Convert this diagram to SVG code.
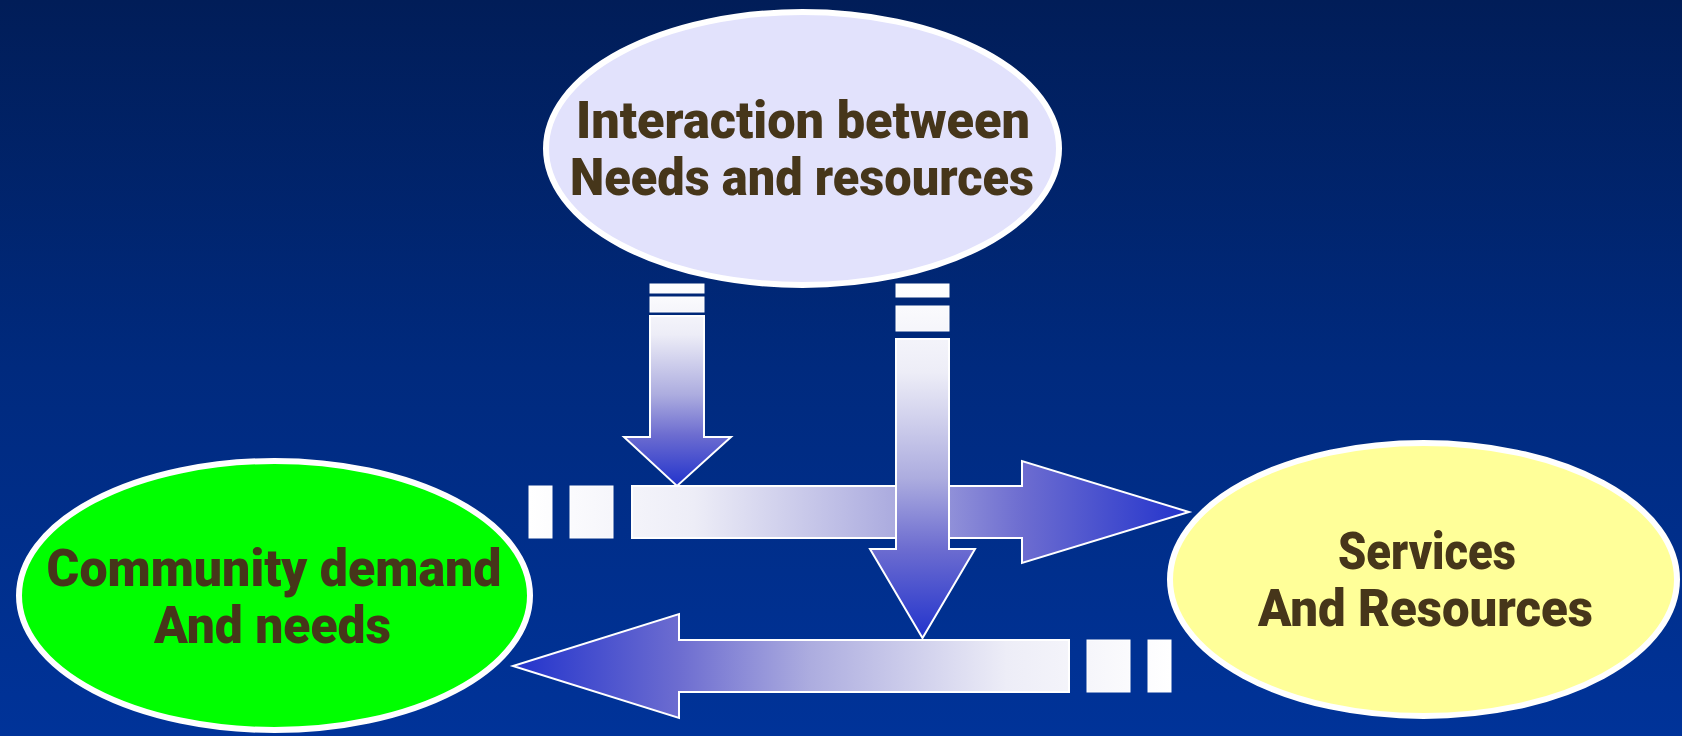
<svg xmlns="http://www.w3.org/2000/svg" width="1682" height="736" viewBox="0 0 1682 736">
<defs>
<linearGradient id="bg" x1="0" y1="0" x2="0" y2="1">
<stop offset="0" stop-color="#011D58"/>
<stop offset="0.5" stop-color="#002A7E"/>
<stop offset="1" stop-color="#003399"/>
</linearGradient>
<linearGradient id="gR" gradientUnits="userSpaceOnUse" x1="529" y1="0" x2="1189" y2="0">
<stop offset="0" stop-color="#FFFFFF"/>
<stop offset="0.25" stop-color="#EDEDF7"/>
<stop offset="0.55" stop-color="#ACACDF"/>
<stop offset="0.75" stop-color="#6C6CD0"/>
<stop offset="1" stop-color="#2233CC"/>
</linearGradient>
<linearGradient id="gL" gradientUnits="userSpaceOnUse" x1="1171" y1="0" x2="513" y2="0">
<stop offset="0" stop-color="#FFFFFF"/>
<stop offset="0.25" stop-color="#EDEDF7"/>
<stop offset="0.55" stop-color="#ACACDF"/>
<stop offset="0.75" stop-color="#6C6CD0"/>
<stop offset="1" stop-color="#2233CC"/>
</linearGradient>
<linearGradient id="gD1" gradientUnits="userSpaceOnUse" x1="0" y1="284" x2="0" y2="486">
<stop offset="0" stop-color="#FFFFFF"/>
<stop offset="0.25" stop-color="#EDEDF7"/>
<stop offset="0.55" stop-color="#ACACDF"/>
<stop offset="0.75" stop-color="#6C6CD0"/>
<stop offset="1" stop-color="#2233CC"/>
</linearGradient>
<linearGradient id="gD2" gradientUnits="userSpaceOnUse" x1="0" y1="284" x2="0" y2="638">
<stop offset="0" stop-color="#FFFFFF"/>
<stop offset="0.25" stop-color="#EDEDF7"/>
<stop offset="0.55" stop-color="#ACACDF"/>
<stop offset="0.75" stop-color="#6C6CD0"/>
<stop offset="1" stop-color="#2233CC"/>
</linearGradient>
</defs>
<style>
.node { stroke: #FFFFFF; stroke-width: 6; }
.lbl { font-family: Roboto, "Liberation Sans", sans-serif; font-weight: 900; font-size: 52px; fill: #46361A; text-anchor: middle; }
.arr { stroke: #FFFFFF; stroke-width: 2; stroke-linejoin: miter; }
.bar { stroke: #FFFFFF; stroke-width: 1; }
</style>
<rect x="0" y="0" width="1682" height="736" fill="url(#bg)"/>

<g id="node-interaction">
<ellipse class="node" cx="802.5" cy="148.5" rx="256.5" ry="136.5" fill="#E2E2FC"/>
<text class="lbl" x="803" y="138" textLength="454" lengthAdjust="spacingAndGlyphs">Interaction between</text>
<text class="lbl" x="802" y="195" textLength="464" lengthAdjust="spacingAndGlyphs">Needs and resources</text>
</g>

<g id="node-community">
<ellipse class="node" cx="274.5" cy="595.5" rx="255.5" ry="134.5" fill="#00FF00"/>
<text class="lbl" x="274" y="586" textLength="455" lengthAdjust="spacingAndGlyphs">Community demand</text>
<text class="lbl" x="272.5" y="643" textLength="237" lengthAdjust="spacingAndGlyphs">And needs</text>
</g>

<g id="node-services">
<ellipse class="node" cx="1423.5" cy="579.5" rx="253.5" ry="136.5" fill="#FFFF99"/>
<text class="lbl" x="1427" y="569" textLength="178" lengthAdjust="spacingAndGlyphs">Services</text>
<text class="lbl" x="1425.5" y="626" textLength="335" lengthAdjust="spacingAndGlyphs">And Resources</text>
</g>

<g id="connectors">
<g id="arrow-right">
<rect class="bar" x="529" y="486" width="23" height="52" fill="url(#gR)"/>
<rect class="bar" x="570" y="486" width="43" height="52" fill="url(#gR)"/>
<path class="arr" d="M632,486 H1022 V461 L1189,512 L1022,563 V538 H632 Z" fill="url(#gR)"/>
</g>
<g id="arrow-left">
<rect class="bar" x="1148" y="640" width="23" height="52" fill="url(#gL)"/>
<rect class="bar" x="1087" y="640" width="43" height="52" fill="url(#gL)"/>
<path class="arr" d="M1069,640 H679 V614 L513,666 L679,718 V692 H1069 Z" fill="url(#gL)"/>
</g>
<g id="arrow-down-1">
<rect class="bar" x="650" y="284" width="54" height="9" fill="url(#gD1)"/>
<rect class="bar" x="650" y="297" width="54" height="15" fill="url(#gD1)"/>
<path class="arr" d="M650,316 H704 V437 H731 L677,486 L624,437 H650 Z" fill="url(#gD1)"/>
</g>
<g id="arrow-down-2">
<rect class="bar" x="896" y="284" width="53" height="13" fill="url(#gD2)"/>
<rect class="bar" x="896" y="306" width="53" height="25" fill="url(#gD2)"/>
<path class="arr" d="M896,339 H949 V549 H975 L922.5,638 L870,549 H896 Z" fill="url(#gD2)"/>
</g>
</g>
</svg>
